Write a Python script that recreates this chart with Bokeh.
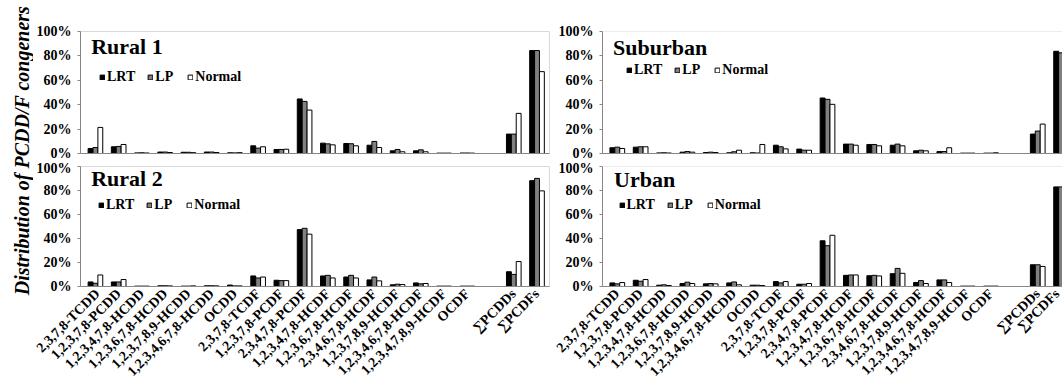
import math
from bokeh.plotting import figure
from bokeh.layouts import row, column
from bokeh.models import (ColumnDataSource, FixedTicker, PrintfTickFormatter, Label,
                          Legend, LegendItem, Span, Range1d)
from bokeh.transform import dodge
from bokeh.embed import file_html
from bokeh.resources import INLINE

# ---------------- data ----------------
categories = ["2,3,7,8-TCDD", "1,2,3,7,8-PCDD", "1,2,3,4,7,8-HCDD", "1,2,3,6,7,8-HCDD",
              "1,2,3,7,8,9-HCDD", "1,2,3,4,6,7,8-HCDD", "OCDD", "2,3,7,8-TCDF",
              "1,2,3,7,8-PCDF", "2,3,4,7,8-PCDF", "1,2,3,4,7,8-HCDF", "1,2,3,6,7,8-HCDF",
              "2,3,4,6,7,8-HCDF", "1,2,3,7,8,9-HCDF", "1,2,3,4,6,7,8-HCDF", "1,2,3,4,7,8,9-HCDF",
              "OCDF", "", "\u2211PCDDs", "\u2211PCDFs"]
series = ["LRT", "LP", "Normal"]
panel_names = ["Rural 1", "Rural 2", "Suburban", "Urban"]

rural1_lrt    = [4.1, 5.5, 0.5, 1.2, 1.0, 1.2, 0.6, 6.3, 3.3, 44.7, 8.5, 8.2, 6.8, 2.2, 2.2, 0.3, 0.4, 15.9, 84.4]
rural1_lp     = [4.9, 5.8, 0.6, 1.2, 1.0, 1.2, 0.5, 4.4, 3.3, 42.7, 7.9, 8.0, 9.9, 3.3, 3.0, 0.3, 0.4, 15.9, 84.4]
rural1_normal = [21.4, 7.4, 0.4, 0.8, 0.7, 0.8, 0.7, 5.5, 3.5, 35.6, 7.1, 6.3, 4.9, 1.4, 1.4, 0.3, 0.3, 32.9, 67.1]

rural2_lrt    = [3.8, 3.8, 0.3, 0.6, 0.3, 0.6, 1.2, 8.8, 5.2, 47.4, 8.8, 7.9, 5.5, 1.4, 3.0, 0.3, 0.3, 12.3, 88.2]
rural2_lp     = [2.7, 3.8, 0.3, 0.6, 0.3, 0.6, 0.5, 7.1, 4.9, 48.5, 9.3, 9.3, 7.9, 1.9, 2.2, 0.3, 0.3, 10.1, 90.1]
rural2_normal = [9.6, 5.8, 0.3, 0.5, 0.5, 0.5, 0.5, 7.9, 4.9, 43.6, 7.1, 7.1, 4.7, 1.6, 2.5, 0.3, 0.3, 20.8, 79.7]

suburban_lrt    = [4.7, 5.2, 0.5, 1.1, 0.8, 0.6, 0.6, 6.8, 3.6, 45.5, 7.7, 7.4, 6.8, 2.2, 1.6, 0.3, 0.3, 15.9, 83.8]
suburban_lp     = [5.2, 5.5, 0.6, 1.6, 1.1, 1.4, 0.4, 5.5, 2.7, 44.4, 7.7, 7.4, 7.7, 2.7, 1.6, 0.3, 0.3, 18.4, 82.5]
suburban_normal = [4.1, 5.5, 0.4, 1.1, 0.8, 2.7, 7.4, 3.8, 2.7, 40.3, 6.8, 6.3, 6.3, 2.2, 4.7, 0.3, 0.6, 24.1, 75.9]

urban_lrt    = [3.0, 5.2, 1.1, 2.5, 2.2, 3.0, 1.1, 4.1, 1.9, 38.1, 9.3, 9.0, 10.7, 3.3, 5.5, 0.3, 0.3, 18.1, 83.0]
urban_lp     = [2.2, 4.4, 1.4, 3.6, 2.5, 3.8, 1.1, 3.0, 1.9, 34.0, 9.6, 9.3, 15.1, 4.9, 5.5, 0.3, 0.3, 18.1, 83.0]
urban_normal = [3.3, 5.8, 0.8, 2.5, 2.2, 1.4, 0.8, 4.1, 2.5, 42.7, 9.6, 8.8, 11.0, 2.5, 3.3, 0.3, 0.3, 16.7, 83.3]

y_ticks = [0, 20, 40, 60, 80, 100]
y_label = "Distribution of PCDD/F congeners"

panel_data = {
    "Rural 1": (rural1_lrt, rural1_lp, rural1_normal),
    "Rural 2": (rural2_lrt, rural2_lp, rural2_normal),
    "Suburban": (suburban_lrt, suburban_lp, suburban_normal),
    "Urban": (urban_lrt, urban_lp, urban_normal),
}

# ---------------- style ----------------
FONT = "Liberation Serif"
AXIS = "#868686"
FRAME = "#d9d9d9"
FILLS = {"LRT": "#000000", "LP": "#808080", "Normal": "#ffffff"}
BAR_W = 0.21
FRAME_H = 122

slot_index = [i for i, c in enumerate(categories) if c != ""]
label_map = {i: categories[i] for i in slot_index}


def make_panel(name, width, height, b_left, b_top, b_bottom, b_right, x_start, x_end,
               show_labels, title_px, legend_pos, outline):
    lrt, lp, normal = panel_data[name]
    src = ColumnDataSource(dict(x=slot_index, LRT=lrt, LP=lp, Normal=normal))
    p = figure(width=width, height=height, x_range=Range1d(x_start, x_end),
               y_range=Range1d(0, 100), output_backend="svg", toolbar_location=None,
               min_border_left=b_left, min_border_right=b_right, min_border_top=b_top,
               min_border_bottom=b_bottom)
    p.xgrid.visible = False
    p.ygrid.visible = False
    p.background_fill_color = "white"
    p.border_fill_color = "white"
    if outline:
        p.outline_line_color = FRAME
        p.outline_line_width = 1
    else:
        p.outline_line_color = None
        p.add_layout(Span(location=100, dimension="width", line_color=FRAME, line_width=1))

    renderers = {}
    for k, s in enumerate(series):
        r = p.vbar(x=dodge("x", (k - 1) * BAR_W, range=p.x_range), top=s, width=BAR_W,
                   source=src, fill_color=FILLS[s], line_color="#000000", line_width=1)
        renderers[s] = r

    # y axis
    ya = p.yaxis[0]
    ya.ticker = FixedTicker(ticks=y_ticks)
    ya.formatter = PrintfTickFormatter(format="%d%%")
    ya.axis_line_color = AXIS
    ya.major_tick_line_color = AXIS
    ya.major_tick_out = 3
    ya.major_tick_in = 0
    ya.minor_tick_out = 0
    ya.minor_tick_in = 0
    ya.major_label_standoff = 6
    ya.major_label_text_font = FONT
    ya.major_label_text_font_style = "bold"
    ya.major_label_text_font_size = "14px"
    ya.major_label_text_color = "#000000"

    # x axis
    xa = p.xaxis[0]
    xa.axis_line_color = AXIS
    xa.major_tick_out = 0
    xa.major_tick_in = 0
    xa.minor_tick_out = 0
    xa.minor_tick_in = 0
    if show_labels:
        xa.ticker = FixedTicker(ticks=slot_index)
        xa.major_label_overrides = label_map
        xa.major_label_orientation = math.pi / 4
        xa.major_label_standoff = 5
        xa.major_label_text_font = FONT
        xa.major_label_text_font_style = "bold"
        xa.major_label_text_font_size = "14px"
        xa.major_label_text_color = "#000000"
    else:
        xa.ticker = FixedTicker(ticks=[])
        xa.major_label_standoff = 0

    # panel title (placed in data units from pixel offsets within the frame)
    frame_w = width - b_left - b_right
    px_per_x = frame_w / (x_end - x_start)
    tx = x_start + title_px[0] / px_per_x
    ty = 100 - title_px[1] * 100.0 / FRAME_H
    p.add_layout(Label(x=tx, y=ty, text=name, text_font=FONT, text_font_style="bold",
                       text_font_size="22px", text_color="#000000",
                       text_baseline="alphabetic", text_align="left"))

    # legend
    items = [LegendItem(label=s, renderers=[renderers[s]]) for s in series]
    leg = Legend(items=items, location=legend_pos, orientation="horizontal",
                 glyph_width=6, glyph_height=6, label_standoff=2, spacing=12,
                 padding=0, margin=0, border_line_color=None, background_fill_alpha=0,
                 label_text_font=FONT, label_text_font_style="bold",
                 label_text_font_size="14px", label_height=14, label_text_color="#000000")
    p.add_layout(leg, "center")
    return p


TOP_H, BOT_H = 160, 227
TOTAL_H = TOP_H + BOT_H
LAB_W, LEFT_W, RIGHT_W = 33, 517, 512

p_r1 = make_panel("Rural 1", LEFT_W, TOP_H, 45, 31, 7, 1, -0.643, 19.537, False,
                  (10.7, 14.7), (19, 68), True)
p_r2 = make_panel("Rural 2", LEFT_W, BOT_H, 45, 6, 99, 1, -0.643, 19.537, True,
                  (10.7, 12.0), (18, 73), True)
p_sub = make_panel("Suburban", RIGHT_W, TOP_H, 52, 31, 7, 0, -0.633, 19.06, False,
                   (10.5, 16.0), (24, 75), False)
p_urb = make_panel("Urban", RIGHT_W, BOT_H, 52, 6, 99, 0, -0.633, 19.06, True,
                   (11.5, 13.0), (16.5, 73), False)

# y-axis title column: an axis with only its label, centred on a 300px-tall frame
lab = figure(width=LAB_W, height=TOTAL_H, x_range=Range1d(0, 1), y_range=Range1d(0, 1),
             output_backend="svg", toolbar_location=None, x_axis_type=None,
             min_border_left=LAB_W - 1, min_border_right=0, min_border_top=0,
             min_border_bottom=TOTAL_H - 300, outline_line_color=None)
lab.ygrid.visible = False
lya = lab.yaxis[0]
lya.ticker = FixedTicker(ticks=[])
lya.axis_line_color = None
lya.major_tick_out = 0
lya.major_tick_in = 0
lya.minor_tick_out = 0
lya.minor_tick_in = 0
lya.major_label_standoff = 0
lya.axis_label = y_label
lya.axis_label_standoff = 0
lya.axis_label_text_font = FONT
lya.axis_label_text_font_style = "bold italic"
lya.axis_label_text_font_size = "20px"
lya.axis_label_text_color = "#000000"

layout = row(lab, column(p_r1, p_r2), column(p_sub, p_urb))

open("out.html", "w").write(file_html(layout, INLINE))
